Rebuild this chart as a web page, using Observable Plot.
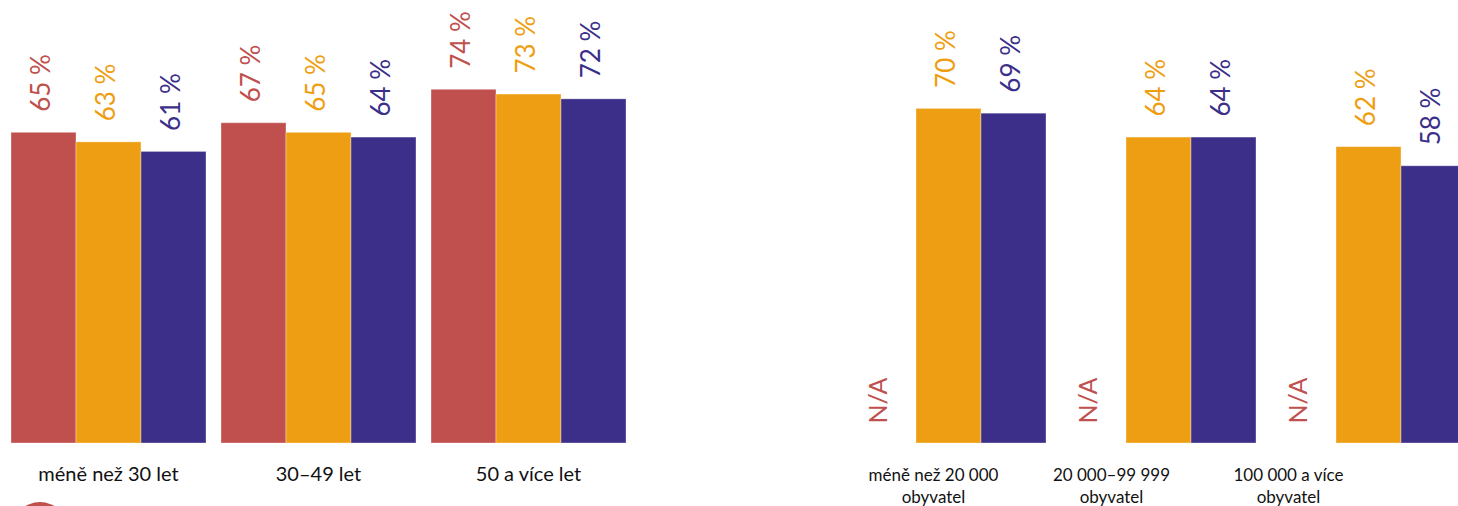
<!DOCTYPE html>
<html>
<head>
<meta charset="utf-8">
<script src="https://cdn.jsdelivr.net/npm/d3@7"></script>
<script src="https://cdn.jsdelivr.net/npm/@observablehq/plot@0.6"></script>
<style>
  html, body { margin: 0; padding: 0; background: #fff; overflow: hidden; width: 1458px; height: 506px; }
  #wrap { position: relative; width: 1458px; height: 506px; overflow: hidden; }
  #badge { position: absolute; left: 12px; top: 502px; width: 56px; height: 56px; border-radius: 50%; background: #C0504D; }
</style>
</head>
<body>
<div id="wrap"><div id="chart"></div><div id="badge"></div></div>
<script>
// ---- data ----
const ageGroups = ["méně než 30 let", "30–49 let", "50 a více let"];
const townGroups = ["méně než 20 000\nobyvatel", "20 000–99 999\nobyvatel", "100 000 a více\nobyvatel"];
const seriesNames = ["řada 1", "řada 2", "řada 3"];
const ageRed = [65, 67, 74];
const ageOrange = [63, 65, 73];
const ageBlue = [61, 64, 72];
const townRed = [null, null, null];   // N/A
const townOrange = [70, 64, 62];
const townBlue = [69, 64, 58];

// ---- layout / style ----
const colors = ["#C0504D", "#EE9E12", "#3B2F89"];
const spacer = "·";
const groups = [...ageGroups, spacer, ...townGroups];
const labelShift = {"méně než 20 000\nobyvatel": -15, "20 000–99 999\nobyvatel": -47, "100 000 a více\nobyvatel": -80};

const rows = [];
function addPanel(cats, vals) {
  cats.forEach((g, i) => {
    vals.forEach((arr, s) => rows.push({group: g, series: seriesNames[s], value: arr[i]}));
  });
}
addPanel(ageGroups, [ageRed, ageOrange, ageBlue]);
addPanel(townGroups, [townRed, townOrange, townBlue]);

const valueRows = rows.filter(d => d.value != null);
const naRows = rows.filter(d => d.value == null);

const font = "Lato, 'Open Sans', sans-serif";

const labelMarks = groups.filter(g => g !== spacer).map(g => {
  const isTown = townGroups.includes(g);
  return Plot.text([g], {
    fx: d => d,
    y: () => 0,
    text: d => d,
    lineAnchor: "top",
    lineHeight: isTown ? 1.33 : 1.2,
    dy: isTown ? 21 : 20,
    dx: labelShift[g] || 0,
    fontSize: isTown ? 17 : 20,
    fill: "#111"
  });
});

const chart = Plot.plot({
  width: 1458,
  height: 506,
  marginTop: 0, marginBottom: 0, marginLeft: 0, marginRight: 0,
  style: {fontFamily: font, background: "#fff", overflow: "visible"},
  fx: {domain: groups, range: [3, 1473], paddingInner: 14 / 210, paddingOuter: 7 / 210, axis: null, label: null},
  x: {domain: seriesNames, padding: 0, axis: null, label: null},
  y: {domain: [0, 100], range: [443, -35], axis: null, label: null},
  color: {domain: seriesNames, range: colors},
  marks: [
    Plot.barY(valueRows, {fx: "group", x: "series", y: "value", fill: "series", stroke: "#fff", strokeOpacity: 0.35, strokeWidth: 1}),
    Plot.text(valueRows, {fx: "group", x: "series", y: "value", text: d => `${d.value} %`, fill: "series",
      rotate: -90, textAnchor: "start", dy: -21, dx: -2, fontSize: 26}),
    Plot.text(naRows, {fx: "group", x: "series", y: () => 0, text: () => "N/A", fill: "series",
      rotate: -90, textAnchor: "start", dy: -20, dx: -5, fontSize: 25}),
    ...labelMarks
  ]
});
document.getElementById("chart").appendChild(chart);
</script>
</body>
</html>
